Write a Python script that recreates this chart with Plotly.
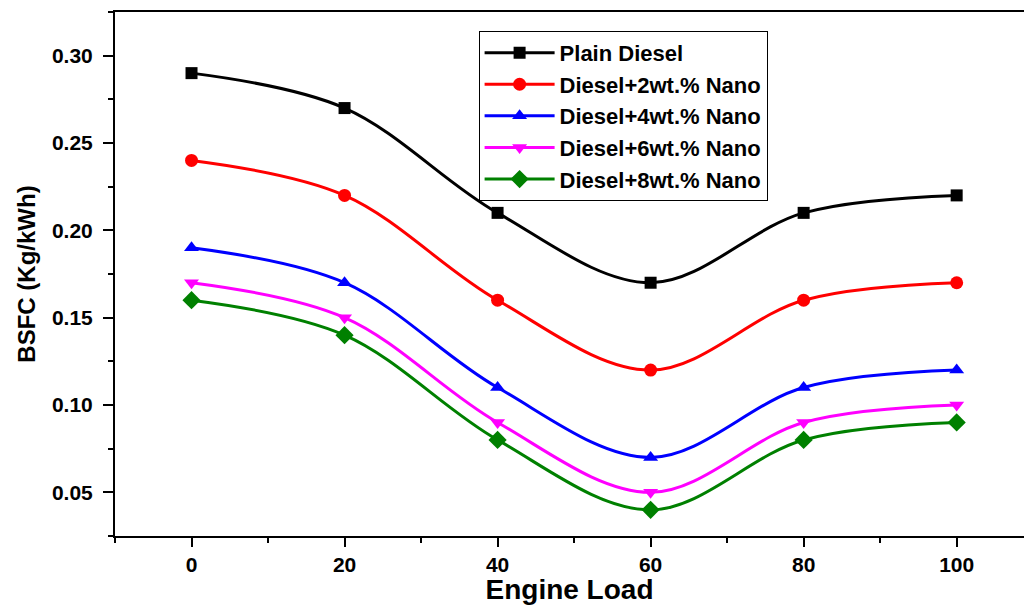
import plotly.graph_objects as go

engine_load = [0, 20, 40, 60, 80, 100]
plain_diesel = [0.29, 0.27, 0.21, 0.17, 0.21, 0.22]
nano_2 = [0.24, 0.22, 0.16, 0.12, 0.16, 0.17]
nano_4 = [0.19, 0.17, 0.11, 0.07, 0.11, 0.12]
nano_6 = [0.17, 0.15, 0.09, 0.05, 0.09, 0.10]
nano_8 = [0.16, 0.14, 0.08, 0.04, 0.08, 0.09]

series_names = ["Plain Diesel", "Diesel+2wt.% Nano", "Diesel+4wt.% Nano",
                "Diesel+6wt.% Nano", "Diesel+8wt.% Nano"]
series_values = [plain_diesel, nano_2, nano_4, nano_6, nano_8]
colors = ["#000000", "#ff0000", "#0000ff", "#ff00ff", "#008000"]
symbols = ["square", "circle", "triangle-up", "triangle-down", "diamond"]
msizes = [12, 13, 13, 13, 14]

FONT = "Arial, Liberation Sans, sans-serif"

fig = go.Figure()
for name, vals, c, s, ms in zip(series_names, series_values, colors, symbols, msizes):
    fig.add_trace(go.Scatter(
        x=engine_load, y=vals, name=name, mode="lines+markers",
        line=dict(color=c, width=3, shape="spline", smoothing=1.0),
        marker=dict(symbol=s, size=ms, color=c),
    ))

fig.update_layout(
    width=1024, height=605,
    margin=dict(l=115, r=0, t=12, b=69),
    paper_bgcolor="white", plot_bgcolor="white",
    font=dict(family=FONT, color="black", weight="bold"),
    legend=dict(
        x=0.400, y=0.964, xanchor="left", yanchor="top",
        bordercolor="black", borderwidth=1, bgcolor="white",
        font=dict(size=22, family=FONT, color="black", weight="bold"),
        itemwidth=70, tracegroupgap=0,
    ),
    showlegend=True,
)

fig.update_xaxes(
    range=[-10, 108.8], tick0=0, dtick=20,
    showline=True, linecolor="black", linewidth=2, mirror=True,
    ticks="outside", ticklen=9, tickwidth=2, tickcolor="black",
    minor=dict(dtick=10, tick0=0, ticks="outside", ticklen=5, tickwidth=2, tickcolor="black"),
    showgrid=False, zeroline=False,
    tickfont=dict(size=21, family=FONT, weight="bold"),
    ticklabelstandoff=0,
    title=dict(text="Engine Load", font=dict(size=28, family=FONT, weight="bold"), standoff=2),
)
fig.update_yaxes(
    range=[0.025, 0.325], tick0=0, dtick=0.05, tickformat=".2f",
    showline=True, linecolor="black", linewidth=2, mirror=False,
    ticks="outside", ticklen=10, tickwidth=2, tickcolor="black",
    minor=dict(dtick=0.025, tick0=0, ticks="outside", ticklen=5, tickwidth=2, tickcolor="black"),
    showgrid=False, zeroline=False,
    tickfont=dict(size=21, family=FONT, weight="bold"),
    ticklabelstandoff=6,
    title=dict(text="BSFC (Kg/kWh)", font=dict(size=24, family=FONT, weight="bold"), standoff=10),
)

fig.write_html("out.html")
